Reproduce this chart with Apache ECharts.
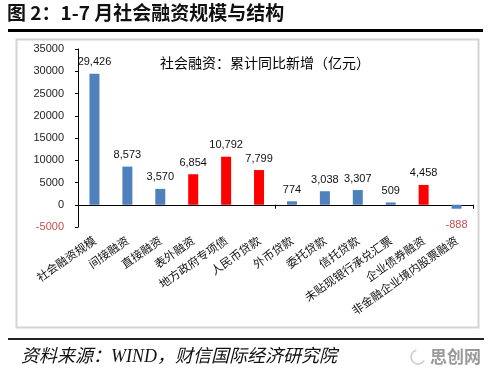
<!DOCTYPE html>
<html>
<head>
<meta charset="utf-8">
<script src="https://cdn.jsdelivr.net/npm/echarts@6/dist/echarts.min.js"></script>
<style>
  html, body { margin: 0; padding: 0; background: #fff; }
  #chart-container { width: 496px; height: 374px; }
</style>
</head>
<body>
<div id="chart-container"></div>
<script>
// 1-7月社会融资累计同比新增（亿元）
const categories = [
  "社会融资规模", "间接融资", "直接融资", "表外融资", "地方政府专项债", "人民币贷款",
  "外币贷款", "委托贷款", "信托贷款", "未贴现银行承兑汇票", "企业债券融资", "非金融企业境内股票融资"
];
const values = [29426, 8573, 3570, 6854, 10792, 7799, 774, 3038, 3307, 509, 4458, -888];
const highlighted = ["表外融资", "地方政府专项债", "人民币贷款", "企业债券融资"];
const yTicks = { min: -5000, max: 35000, interval: 5000 };

const cjk = "'Noto Sans CJK SC', sans-serif";
const num = "'Liberation Sans', Arial, sans-serif";

const dom = document.getElementById("chart-container");
const myChart = echarts.init(dom, null, { renderer: "canvas" });

const barData = values.map((v, i) => ({
  value: v,
  itemStyle: { color: highlighted.includes(categories[i]) ? "#ff0000" : "#4f81bd" },
  label: v < 0 ? { position: "bottom", color: "#c0504d", distance: 11 } : undefined
}));

const option = {
  animation: false,
  backgroundColor: "#fff",
  grid: { left: 78, right: 23, top: 49, bottom: 147 },
  graphic: [
    {
      type: "text", left: 7, top: 3,
      style: { text: "图 2：1-7 月社会融资规模与结构", font: "bold 19px " + cjk, fill: "#111" }
    },
    { type: "line", shape: { x1: 8, y1: 30.5, x2: 483, y2: 30.5 }, style: { stroke: "#000", lineWidth: 3 } },
    {
      type: "rect", shape: { x: 16.5, y: 39.5, width: 462, height: 288 },
      style: { fill: null, stroke: "#d4d4d4", lineWidth: 2 }
    },
    {
      type: "text", x: 265, y: 63,
      style: { text: "社会融资：累计同比新增（亿元）", font: "14px " + cjk, fill: "#000", align: "center", verticalAlign: "middle" }
    },
    { type: "line", shape: { x1: 8, y1: 339, x2: 484, y2: 339 }, style: { stroke: "#222", lineWidth: 2 } },
    {
      type: "text", x: 21, y: 357,
      style: { text: "资料来源：WIND，财信国际经济研究院", font: "italic 18px 'Liberation Serif', " + cjk, fill: "#111", verticalAlign: "middle" }
    },
    {
      type: "arc", shape: { cx: 418, cy: 357, r: 7, startAngle: 0.5, endAngle: 4.5 },
      style: { stroke: "#ccc", lineWidth: 1.5, fill: null }
    },
    {
      type: "text", x: 430, y: 357,
      style: { text: "思创网", font: "bold 17px " + cjk, fill: "#9a9a9a", verticalAlign: "middle" }
    }
  ],
  xAxis: [
    {
      type: "category",
      data: categories,
      axisLine: { onZero: true, lineStyle: { color: "#000", width: 1 } },
      axisTick: { show: true, length: 4, lineStyle: { color: "#000" } },
      axisLabel: { show: false }
    },
    {
      type: "category",
      data: categories,
      position: "bottom",
      axisLine: { show: false, onZero: false },
      axisTick: { show: false },
      axisLabel: {
        interval: 0, rotate: 35, margin: 12,
        fontFamily: cjk, fontSize: 11.5, color: "#111"
      }
    }
  ],
  yAxis: {
    type: "value",
    min: yTicks.min, max: yTicks.max, interval: yTicks.interval,
    splitLine: { show: false },
    axisLine: { show: true, lineStyle: { color: "#000" } },
    axisTick: { show: true, length: 3, lineStyle: { color: "#000" } },
    axisLabel: {
      margin: 14, fontFamily: num, fontSize: 11,
      formatter: (v) => String(v),
      color: (v) => (Number(v) < 0 ? "#c0504d" : "#222")
    }
  },
  series: [
    {
      type: "bar",
      xAxisIndex: 0,
      barWidth: 10,
      data: barData,
      label: {
        show: true,
        position: "top",
        distance: 6,
        fontFamily: num,
        fontSize: 11,
        color: "#111",
        formatter: (p) => p.value.toLocaleString("en-US")
      }
    }
  ]
};

myChart.setOption(option);
window.addEventListener("resize", myChart.resize);
</script>
</body>
</html>
